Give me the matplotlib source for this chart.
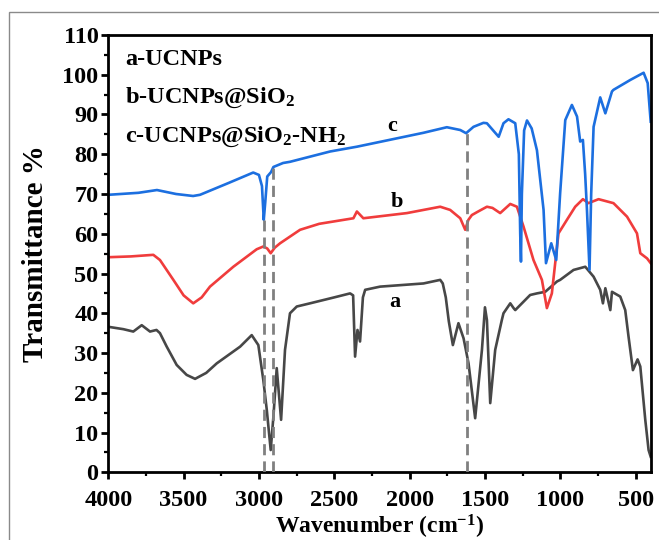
import matplotlib
matplotlib.use("Agg")
import matplotlib.pyplot as plt
from matplotlib.patches import Rectangle
from matplotlib.ticker import MultipleLocator

# ---- data (wavenumber cm-1, transmittance %) ----
wn_a = [4000, 3900, 3834, 3778, 3723, 3680, 3657, 3612, 3546, 3480, 3424, 3350,
        3280, 3125, 3048, 3004, 2971, 2948, 2922, 2904, 2882, 2853, 2827, 2794,
        2749, 2661, 2500, 2395, 2375, 2362, 2346, 2329, 2310, 2295, 2196, 1908,
        1797, 1780, 1760, 1740, 1713, 1676, 1642, 1609, 1565, 1520, 1500, 1487,
        1465, 1432, 1388, 1377, 1332, 1310, 1299, 1200, 1155, 1100, 1022, 1001,
        912, 834, 779, 735, 717, 701, 668, 657, 602, 569, 547, 518, 487, 469,
        436, 414, 400]
t_a = [36.6, 36.0, 35.4, 37.0, 35.4, 35.8, 35.0, 31.6, 27.0, 24.5, 23.5, 25.0,
       27.4, 31.6, 34.5, 32.0, 23.2, 15.7, 5.6, 14.0, 26.2, 13.2, 30.8, 40.0,
       41.7, 42.5, 44.0, 45.0, 44.5, 29.1, 35.8, 32.9, 44.0, 45.9, 46.7, 47.5,
       48.4, 47.5, 44.0, 38.0, 32.0, 37.5, 33.7, 27.4, 13.6, 30.8, 41.5, 38.3,
       17.4, 30.8, 38.3, 40.0, 42.5, 41.3, 40.8, 44.6, 45.0, 45.4, 48.0, 48.4,
       50.9, 51.7, 49.2, 45.9, 42.5, 46.3, 40.8, 45.4, 44.2, 40.8, 34.1, 25.7,
       28.4, 26.6, 13.2, 5.6, 3.9]

wn_b = [4000, 3850, 3701, 3657, 3568, 3500, 3436, 3380, 3325, 3170, 3015, 2971,
        2945, 2922, 2895, 2860, 2727, 2600, 2373, 2350, 2307, 2018, 1797, 1731,
        1664, 1631, 1610, 1587, 1550, 1487, 1450, 1399, 1332, 1288, 1244, 1178,
        1122, 1089, 1056, 1012, 956, 901, 850, 813, 746, 647, 557, 491, 469,
        424, 400]
t_b = [54.1, 54.3, 54.7, 53.4, 48.4, 44.5, 42.5, 44.0, 46.7, 51.7, 56.1, 56.8,
       56.3, 55.1, 56.5, 57.6, 61.0, 62.5, 63.9, 65.6, 63.9, 65.2, 66.8, 66.0,
       63.9, 61.0, 63.5, 64.7, 65.5, 66.8, 66.5, 65.2, 67.5, 66.8, 61.8, 53.4,
       48.4, 41.3, 45.0, 60.1, 63.5, 66.8, 68.7, 67.7, 68.7, 67.7, 64.3, 60.1,
       55.1, 53.8, 52.6]

wn_c = [4000, 3800, 3677, 3550, 3437, 3391, 3200, 3038, 3000, 2980, 2968, 2958,
        2945, 2920, 2904, 2840, 2794, 2527, 2350, 1908, 1753, 1664, 1625, 1576,
        1510, 1487, 1409, 1377, 1344, 1299, 1275, 1266, 1261, 1255, 1240, 1221,
        1190, 1155, 1111, 1095, 1060, 1027, 1001, 967, 923, 889, 868, 850, 835,
        823, 806, 795, 779, 735, 701, 657, 647, 535, 447, 420, 400]
t_c = [69.8, 70.3, 71.0, 70.0, 69.5, 69.8, 72.8, 75.4, 74.8, 72.0, 63.5, 68.0,
       74.4, 75.5, 76.8, 77.8, 78.1, 80.7, 81.9, 85.4, 86.8, 86.1, 85.3, 86.9,
       87.9, 87.8, 84.4, 87.8, 88.8, 87.8, 80.0, 60.0, 53.0, 70.0, 86.0, 88.5,
       86.5, 81.0, 66.0, 52.6, 57.6, 53.4, 70.2, 88.6, 92.4, 89.5, 83.2, 83.6,
       75.0, 66.0, 50.9, 70.0, 86.9, 94.3, 90.3, 95.8, 96.2, 98.7, 100.5, 97.9,
       88.2]

# dashed guide lines: position and the transmittance they reach up to
guide_wn = [2965, 2905, 1620]
guide_top = [63.5, 76.5, 85.5]

legend_lines = ["a-UCNPs", r"b-UCNPs@SiO$_\mathregular{2}$",
                r"c-UCNPs@SiO$_\mathregular{2}$-NH$_\mathregular{2}$"]
curve_tags = ["a", "b", "c"]
tag_wn = [2096, 2085, 2118]
tag_t = [42.9, 68.1, 87.1]

COLORS = {"a": "#474747", "b": "#F03C3C", "c": "#1C6FE0", "guide": "#808080"}

plt.rcParams.update({
    "font.family": "Liberation Serif",
    "font.weight": "bold",
    "mathtext.fontset": "custom",
    "mathtext.rm": "Liberation Serif:bold",
    "mathtext.it": "Liberation Serif:bold",
    "mathtext.bf": "Liberation Serif:bold",
    "mathtext.default": "rm",
})

fig = plt.figure(figsize=(6.59, 5.40), dpi=100)
ax = fig.add_axes([0.1643, 0.1254, 0.8231, 0.8098])

# outer grey frame
fig.patches.append(Rectangle((9 / 659, -0.05), 1.2, (540 - 12) / 540 + 0.05,
                             transform=fig.transFigure, fill=False,
                             edgecolor="#8a8a8a", linewidth=1.0))

ax.plot(wn_a, t_a, color=COLORS["a"], lw=1.9, solid_joinstyle="round")
ax.plot(wn_b, t_b, color=COLORS["b"], lw=1.9, solid_joinstyle="round")
ax.plot(wn_c, t_c, color=COLORS["c"], lw=1.9, solid_joinstyle="round")

for x, top in zip(guide_wn, guide_top):
    ax.plot([x, x], [0, top], color=COLORS["guide"], lw=2.0,
            dashes=(4, 2.2), zorder=5)

for tag, x, y in zip(curve_tags, tag_wn, tag_t):
    ax.text(x, y, tag, ha="center", va="center", fontsize=16, weight="bold")

for i, s in enumerate(legend_lines):
    ax.text(0.031, 0.945 - i * 0.089, s, transform=ax.transAxes,
            ha="left", va="center", fontsize=17.5, weight="bold")

ax.set_xlim(4000, 400)
ax.set_ylim(0, 110)
ax.xaxis.set_major_locator(MultipleLocator(500))
ax.xaxis.set_minor_locator(MultipleLocator(250))
ax.yaxis.set_major_locator(MultipleLocator(10))
ax.yaxis.set_minor_locator(MultipleLocator(5))
ax.tick_params(which="major", direction="out", length=5, width=2,
               labelsize=17.5)
ax.tick_params(axis="x", which="major", pad=8)
ax.tick_params(axis="y", which="major", pad=2)
ax.tick_params(which="minor", direction="out", length=3, width=1.6)
for sp in ax.spines.values():
    sp.set_linewidth(2.0)

ax.set_xlabel(r"Wavenumber (cm$^{-1}$)", fontsize=17, weight="bold", labelpad=1)
ax.set_ylabel("Transmittance %", fontsize=21, weight="bold", labelpad=10)

fig.savefig("out.png", dpi=100)
